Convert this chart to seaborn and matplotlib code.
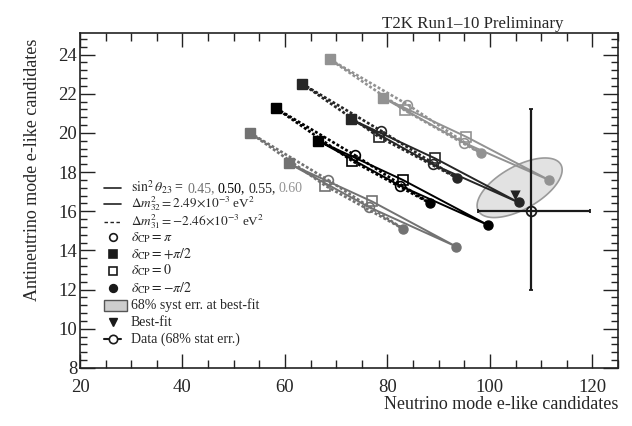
import numpy as np
import pandas as pd
import matplotlib
matplotlib.use("Agg")
import matplotlib.pyplot as plt
import seaborn as sns
from matplotlib.lines import Line2D
from matplotlib.patches import Rectangle
from matplotlib.transforms import IdentityTransform

# expected e-like candidates (nu mode, nubar mode) for each sin^2(theta23)
sin2_theta23 = ["0.45", "0.50", "0.55", "0.60"]
theta_colors = ["#727272", "#000000", "#262626", "#929292"]

# normal ordering (solid)
nh_nue_halfpi = [60.7, 66.5, 72.9, 79.1]
nh_nuebar_halfpi = [18.45, 19.6, 20.7, 21.8]
nh_nue_pi = [76.5, 82.5, 88.8, 94.9]
nh_nuebar_pi = [16.2, 17.3, 18.4, 19.5]
nh_nue_mhalfpi = [93.4, 99.6, 105.6, 111.5]
nh_nuebar_mhalfpi = [14.2, 15.3, 16.45, 17.6]
nh_nue_zero = [77.0, 83.0, 89.3, 95.4]
nh_nuebar_zero = [16.5, 17.6, 18.7, 19.8]

# inverted ordering (dashed)
ih_nue_halfpi = [53.2, 58.3, 63.4, 68.8]
ih_nuebar_halfpi = [20.0, 21.25, 22.5, 23.75]
ih_nue_pi = [68.4, 73.6, 78.8, 83.9]
ih_nuebar_pi = [17.6, 18.87, 20.1, 21.45]
ih_nue_mhalfpi = [83.1, 88.4, 93.6, 98.3]
ih_nuebar_mhalfpi = [15.1, 16.4, 17.7, 18.95]
ih_nue_zero = [67.9, 73.1, 78.3, 83.4]
ih_nuebar_zero = [17.3, 18.57, 19.8, 21.15]

# best fit and its 68% syst ellipse
bestfit_nue, bestfit_nuebar = 105.0, 16.8
syst_center = (105.8, 17.2)
syst_sigma = (8.3, 1.52)
syst_rho = 0.6

# data with asymmetric 68% stat errors
data_nue, data_nuebar = 108, 16
data_nue_err = (10.3, 11.6)
data_nuebar_err = (4.0, 5.2)

legend_labels = [
    r"$\sin^2\theta_{23}$ =",
    r"$\Delta m^2_{32} = 2.49{\times}10^{-3}$ eV$^2$",
    r"$\Delta m^2_{31} = -2.46{\times}10^{-3}$ eV$^2$",
    r"$\delta_{\rm CP} = \pi$",
    r"$\delta_{\rm CP} = +\pi/2$",
    r"$\delta_{\rm CP} = 0$",
    r"$\delta_{\rm CP} = -\pi/2$",
    "68% syst err. at best-fit",
    "Best-fit",
    "Data (68% stat err.)",
]
legend_rows = [188.0, 204.0, 222.0, 237.3, 254.0, 270.7, 288.3, 305.0, 321.7, 339.0]

sns.set_theme(style="ticks")
plt.rcParams["font.family"] = ["Liberation Serif", "DejaVu Serif"]
plt.rcParams["mathtext.fontset"] = "stix"

W, H = 632, 426
fig = plt.figure(figsize=(W / 100, H / 100), dpi=100)
ax = fig.add_axes([80 / W, 1 - 368 / H, 538 / W, 335 / H])

# build loops: delta = pi/2 -> pi -> -pi/2 -> 0 -> pi/2
rows = []
for order, pts in (
    ("NH", [(nh_nue_halfpi, nh_nuebar_halfpi), (nh_nue_pi, nh_nuebar_pi),
            (nh_nue_mhalfpi, nh_nuebar_mhalfpi), (nh_nue_zero, nh_nuebar_zero),
            (nh_nue_halfpi, nh_nuebar_halfpi)]),
    ("IH", [(ih_nue_halfpi, ih_nuebar_halfpi), (ih_nue_pi, ih_nuebar_pi),
            (ih_nue_mhalfpi, ih_nuebar_mhalfpi), (ih_nue_zero, ih_nuebar_zero),
            (ih_nue_halfpi, ih_nuebar_halfpi)]),
):
    for i, th in enumerate(sin2_theta23):
        for k, (xs, ys) in enumerate(pts):
            rows.append(dict(order=order, theta=th, loop=f"{order}{th}",
                             step=k, nue=xs[i], nuebar=ys[i]))
loops = pd.DataFrame(rows)
palette = dict(zip(sin2_theta23, theta_colors))

# syst ellipse
cov = np.array([[syst_sigma[0] ** 2, syst_rho * syst_sigma[0] * syst_sigma[1]],
                [syst_rho * syst_sigma[0] * syst_sigma[1], syst_sigma[1] ** 2]])
L = np.linalg.cholesky(cov)
t = np.linspace(0, 2 * np.pi, 200)
ell = L @ np.vstack([np.cos(t), np.sin(t)])
ax.fill(ell[0] + syst_center[0], ell[1] + syst_center[1],
        fc="#e2e2e2", ec="#9a9a9a", lw=1.2, zorder=1)

sns.lineplot(data=loops[loops.order == "IH"], x="nue", y="nuebar", hue="theta",
             units="loop", estimator=None, sort=False, palette=palette,
             lw=1.9, dashes=False, legend=False, ax=ax, zorder=3,
             linestyle=(0, (1.1, 0.8)))
sns.lineplot(data=loops[loops.order == "NH"], x="nue", y="nuebar", hue="theta",
             units="loop", estimator=None, sort=False, palette=palette,
             lw=1.4, legend=False, ax=ax, zorder=3)

for i, th in enumerate(sin2_theta23):
    c = theta_colors[i]
    # filled markers
    ax.plot([nh_nue_halfpi[i], ih_nue_halfpi[i]],
            [nh_nuebar_halfpi[i], ih_nuebar_halfpi[i]],
            ls="none", marker="s", ms=6.5, color=c, zorder=4)
    ax.plot([nh_nue_mhalfpi[i], ih_nue_mhalfpi[i]],
            [nh_nuebar_mhalfpi[i], ih_nuebar_mhalfpi[i]],
            ls="none", marker="o", ms=6.5, color=c, zorder=4)
    # open markers
    ax.plot([nh_nue_pi[i], ih_nue_pi[i]], [nh_nuebar_pi[i], ih_nuebar_pi[i]],
            ls="none", marker="o", ms=7, mfc="none", mec=c, mew=1.2, zorder=4)
    ax.plot([nh_nue_zero[i], ih_nue_zero[i]], [nh_nuebar_zero[i], ih_nuebar_zero[i]],
            ls="none", marker="s", ms=7, mfc="none", mec=c, mew=1.2, zorder=4)

sns.scatterplot(x=[bestfit_nue], y=[bestfit_nuebar], marker="v", s=55,
                color="#222222", edgecolor="none", ax=ax, zorder=5)

ax.errorbar([data_nue], [data_nuebar],
            xerr=[[data_nue_err[0]], [data_nue_err[1]]],
            yerr=[[data_nuebar_err[0]], [data_nuebar_err[1]]],
            fmt="o", ms=7, mfc="none", mec="k", mew=1.3, color="k",
            lw=1.6, capsize=1.5, capthick=2.5, zorder=6)

ax.set_xlim(20, 125)
ax.set_ylim(8, 25.1)
ax.set_xticks([20, 40, 60, 80, 100, 120])
ax.set_yticks(np.arange(8, 25, 2))
ax.set_xticks(np.arange(20, 125.1, 5), minor=True)
ax.set_yticks(np.arange(8, 25.1, 0.4), minor=True)
ax.tick_params(which="both", direction="in", top=True, right=True,
               labelsize=13.5, color="#222222", width=1)
ax.tick_params(axis="x", which="major", length=10, pad=8)
ax.tick_params(axis="x", which="minor", length=5.5)
ax.tick_params(axis="y", which="major", length=11, pad=2)
ax.tick_params(axis="y", which="minor", length=5)
for s in ax.spines.values():
    s.set_linewidth(1.2)
    s.set_color("#222222")

ax.set_xlabel("Neutrino mode e-like candidates", fontsize=13, loc="right")
ax.set_ylabel("Antineutrino mode e-like candidates", fontsize=13, loc="top")
ax.xaxis.set_label_coords(1.0, -0.085)
ax.yaxis.set_label_coords(-0.072, 0.982)

fig.text(564 / W, 1 - 28 / H, "T2K Run1\u201310 Preliminary",
         ha="right", va="baseline", fontsize=12.2)


# hand-placed legend (rows evenly spaced like the original)
def fx(px):
    return px / W


def fy(py):
    return 1 - py / H


line_x = (104, 121)
mark_x = 112.5
text_x = 131
dark = "#222222"
legend_texts = []
for k, (lab, yc) in enumerate(zip(legend_labels, legend_rows)):
    if k in (0, 1):
        fig.add_artist(Line2D([fx(line_x[0]), fx(line_x[1])], [fy(yc)] * 2,
                              transform=fig.transFigure, color=dark, lw=1.2))
    elif k == 2:
        fig.add_artist(Line2D([fx(line_x[0]), fx(line_x[1])], [fy(yc)] * 2,
                              transform=fig.transFigure, color=dark, lw=1.0,
                              ls=(0, (2.5, 1.8))))
    elif k in (3, 4, 5, 6):
        mk = "o" if k in (3, 6) else "s"
        filled = k in (4, 6)
        fig.add_artist(Line2D([fx(mark_x)], [fy(yc)], transform=fig.transFigure,
                              ls="none", marker=mk, ms=5.5,
                              mfc="k" if filled else "none", mec="k", mew=1.2))
    elif k == 7:
        fig.add_artist(Rectangle((fx(104), fy(yc + 5.5)), 23 / W, 11 / H,
                                 transform=fig.transFigure, fc="#cdcdcd",
                                 ec="#555555", lw=1))
    elif k == 8:
        fig.add_artist(Line2D([fx(mark_x)], [fy(yc)], transform=fig.transFigure,
                              ls="none", marker="v", ms=6, color="k"))
    else:
        fig.add_artist(Line2D([fx(line_x[0]), fx(line_x[1])], [fy(yc)] * 2,
                              transform=fig.transFigure, color="k", lw=1.5))
        fig.add_artist(Line2D([fx(mark_x)], [fy(yc)], transform=fig.transFigure,
                              ls="none", marker="o", ms=6, mfc="white",
                              mec="k", mew=1.2))
    fs = 9.5 if k in (1, 2) else 10
    legend_texts.append(fig.text(fx(text_x), fy(yc + 3.8), lab, fontsize=fs,
                                 va="baseline", ha="left"))

# coloured sin^2 values after the first legend label
fig.canvas.draw()
r = fig.canvas.get_renderer()
t0 = legend_texts[0]
x = t0.get_window_extent(r).x1 + 3
y = fig.transFigure.transform((0, fy(legend_rows[0] + 3.8)))[1]
pieces = ["0.45,", "0.50,", "0.55,", "0.60"]
for s, c in zip(pieces, theta_colors):
    txt = fig.text(x, y, s, color=c, fontsize=10, va="baseline",
                   transform=IdentityTransform())
    x = txt.get_window_extent(r).x1 + 3

fig.savefig("out.png", dpi=100)
